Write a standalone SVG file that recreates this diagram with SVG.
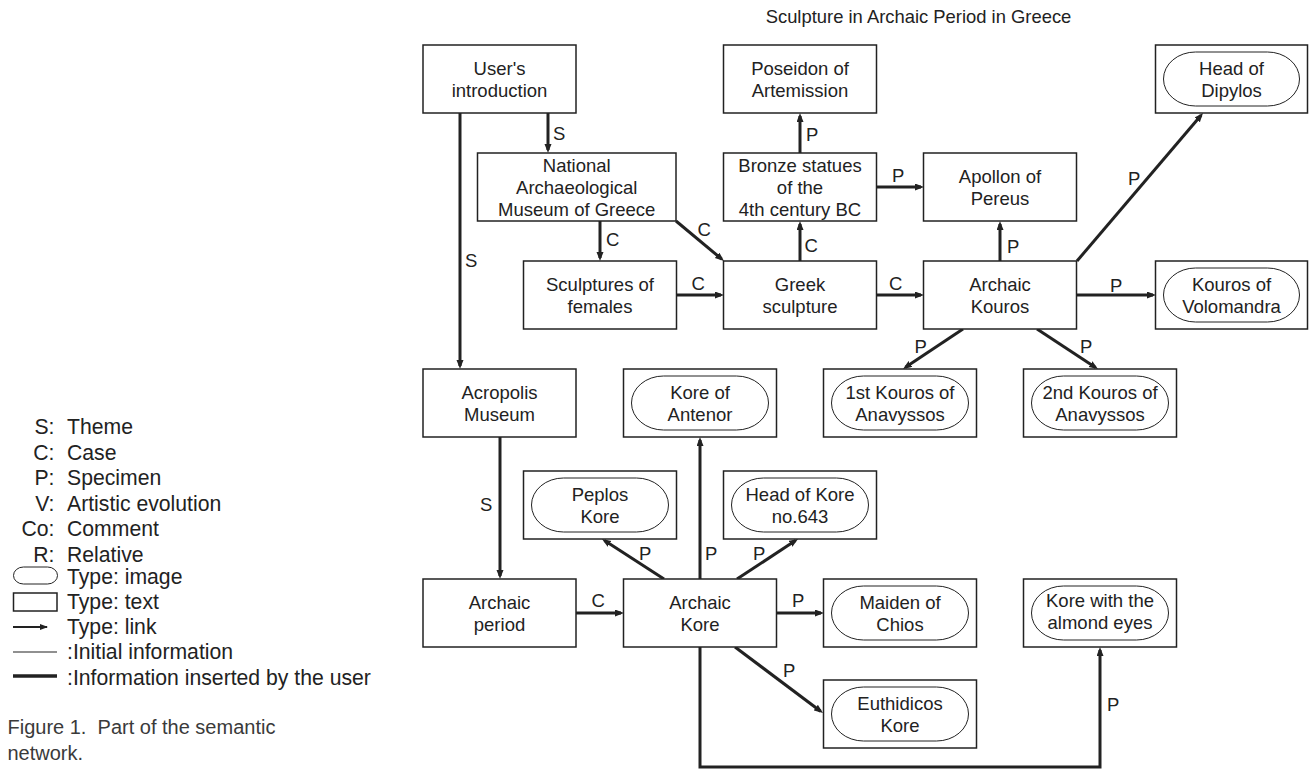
<svg xmlns="http://www.w3.org/2000/svg" width="1309" height="769" viewBox="0 0 1309 769">
<defs>
<marker id="ah" markerUnits="userSpaceOnUse" markerWidth="10" markerHeight="8" refX="6" refY="3.5" orient="auto">
<path d="M0,0 L9,3.5 L0,7 z" fill="#222"/>
</marker>
<marker id="ahs" markerUnits="userSpaceOnUse" markerWidth="10" markerHeight="8" refX="7" refY="3" orient="auto">
<path d="M0,0 L8,3 L0,6 z" fill="#222"/>
</marker>
<style>
text{font-family:"Liberation Sans",Arial,sans-serif;fill:#222}
.n text{font-size:18.5px;text-anchor:middle}
.box{fill:#fff;stroke:#222;stroke-width:1.5}
.pill{fill:none;stroke:#222;stroke-width:1}
.c{fill:none;stroke:#222;stroke-width:3;marker-end:url(#ah)}
.lbl{font-size:18.5px}
.lg{font-size:21.2px}
.lk{font-size:21.2px;text-anchor:end}
.cap{font-size:20px;fill:#3a3a3a}
</style>
</defs>
<rect width="1309" height="769" fill="#fff"/>
<text x="918.5" y="22.5" style="font-size:18.4px;text-anchor:middle">Sculpture in Archaic Period in Greece</text>

<g id="connectors">
<path class="c" d="M548,113 V150"/>
<path class="c" d="M460,113 V366"/>
<path class="c" d="M600,221 V258"/>
<path class="c" d="M676,221 L721.7,259.1"/>
<path class="c" d="M676.5,295 H721"/>
<path class="c" d="M800,153 V116"/>
<path class="c" d="M800,261 V224"/>
<path class="c" d="M876.5,187 H921"/>
<path class="c" d="M1000,261 V224"/>
<path class="c" d="M1077,261 L1201.1,115.3"/>
<path class="c" d="M1076.5,295 H1153"/>
<path class="c" d="M876.5,295 H921"/>
<path class="c" d="M963,329 L905.5,367.3"/>
<path class="c" d="M1037,329 L1095.5,367.4"/>
<path class="c" d="M500,437 V576"/>
<path class="c" d="M576,613 H621"/>
<path class="c" d="M664,579 L604.5,540.6"/>
<path class="c" d="M700,579 V440"/>
<path class="c" d="M737,579 L795.5,540.6"/>
<path class="c" d="M776.5,613 H821"/>
<path class="c" d="M735,647 L820.6,711.2"/>
<path class="c" d="M700,647 V767 H1100 V650"/>
<text class="lbl" x="553" y="140">S</text>
<text class="lbl" x="465" y="266.5">S</text>
<text class="lbl" x="606" y="246">C</text>
<text class="lbl" x="697.5" y="236">C</text>
<text class="lbl" x="691.5" y="290">C</text>
<text class="lbl" x="806" y="141">P</text>
<text class="lbl" x="804.5" y="252">C</text>
<text class="lbl" x="892" y="181.5">P</text>
<text class="lbl" x="1007" y="252.5">P</text>
<text class="lbl" x="1128" y="185">P</text>
<text class="lbl" x="1110" y="291.5">P</text>
<text class="lbl" x="889" y="290">C</text>
<text class="lbl" x="914.5" y="352.5">P</text>
<text class="lbl" x="1080" y="352.5">P</text>
<text class="lbl" x="480" y="510.5">S</text>
<text class="lbl" x="591.5" y="607">C</text>
<text class="lbl" x="639" y="560">P</text>
<text class="lbl" x="705" y="560">P</text>
<text class="lbl" x="753" y="560">P</text>
<text class="lbl" x="792" y="607">P</text>
<text class="lbl" x="783" y="677">P</text>
<text class="lbl" x="1107" y="710.5">P</text>
</g>

<g id="users-introduction" class="n"><rect class="box" x="423" y="45" width="153" height="68"/><text x="499.5" y="74.5">User's</text><text x="499.5" y="96.5">introduction</text></g>
<g id="poseidon" class="n"><rect class="box" x="723.5" y="45" width="153" height="68"/><text x="800" y="74.5">Poseidon of</text><text x="800" y="96.5">Artemission</text></g>
<g id="head-of-dipylos" class="n"><rect class="box" x="1155.5" y="45" width="152" height="68"/><rect class="pill" x="1163.5" y="52" width="136" height="54" rx="32" ry="27"/><text x="1231.5" y="74.5">Head of</text><text x="1231.5" y="96.5">Dipylos</text></g>

<g id="national-museum" class="n"><rect class="box" x="477.5" y="153" width="198.5" height="68"/><text x="576.75" y="172">National</text><text x="576.75" y="194">Archaeological</text><text x="576.75" y="216">Museum of Greece</text></g>
<g id="bronze-statues" class="n"><rect class="box" x="723.5" y="153" width="153" height="68"/><text x="800" y="172">Bronze statues</text><text x="800" y="194">of the</text><text x="800" y="216">4th century BC</text></g>
<g id="apollon" class="n"><rect class="box" x="923.5" y="153" width="153" height="68"/><text x="1000" y="182.5">Apollon of</text><text x="1000" y="204.5">Pereus</text></g>

<g id="sculptures-females" class="n"><rect class="box" x="523.5" y="261" width="153" height="68"/><text x="600" y="290.5">Sculptures of</text><text x="600" y="312.5">females</text></g>
<g id="greek-sculpture" class="n"><rect class="box" x="723.5" y="261" width="153" height="68"/><text x="800" y="290.5">Greek</text><text x="800" y="312.5">sculpture</text></g>
<g id="archaic-kouros" class="n"><rect class="box" x="923.5" y="261" width="153" height="68"/><text x="1000" y="290.5">Archaic</text><text x="1000" y="312.5">Kouros</text></g>
<g id="kouros-volomandra" class="n"><rect class="box" x="1155.5" y="261" width="152" height="68"/><rect class="pill" x="1163.5" y="268" width="136" height="54" rx="32" ry="27"/><text x="1231.5" y="290.5">Kouros of</text><text x="1231.5" y="312.5">Volomandra</text></g>

<g id="acropolis-museum" class="n"><rect class="box" x="423" y="369" width="153" height="68"/><text x="499.5" y="398.5">Acropolis</text><text x="499.5" y="420.5">Museum</text></g>
<g id="kore-antenor" class="n"><rect class="box" x="623.5" y="369" width="153" height="68"/><rect class="pill" x="631.5" y="376" width="137" height="54" rx="32" ry="27"/><text x="700" y="398.5">Kore of</text><text x="700" y="420.5">Antenor</text></g>
<g id="kouros-anavyssos-1" class="n"><rect class="box" x="823.5" y="369" width="153" height="68"/><rect class="pill" x="831.5" y="376" width="137" height="54" rx="32" ry="27"/><text x="900" y="398.5">1st Kouros of</text><text x="900" y="420.5">Anavyssos</text></g>
<g id="kouros-anavyssos-2" class="n"><rect class="box" x="1023.5" y="369" width="153" height="68"/><rect class="pill" x="1031.5" y="376" width="137" height="54" rx="32" ry="27"/><text x="1100" y="398.5">2nd Kouros of</text><text x="1100" y="420.5">Anavyssos</text></g>

<g id="peplos-kore" class="n"><rect class="box" x="523.5" y="471" width="153" height="68"/><rect class="pill" x="531.5" y="478" width="137" height="54" rx="32" ry="27"/><text x="600" y="500.5">Peplos</text><text x="600" y="522.5">Kore</text></g>
<g id="head-of-kore" class="n"><rect class="box" x="723.5" y="471" width="153" height="68"/><rect class="pill" x="731.5" y="478" width="137" height="54" rx="32" ry="27"/><text x="800" y="500.5">Head of Kore</text><text x="800" y="522.5">no.643</text></g>

<g id="archaic-period" class="n"><rect class="box" x="423" y="579" width="153" height="68"/><text x="499.5" y="608.5">Archaic</text><text x="499.5" y="630.5">period</text></g>
<g id="archaic-kore" class="n"><rect class="box" x="623.5" y="579" width="153" height="68"/><text x="700" y="608.5">Archaic</text><text x="700" y="630.5">Kore</text></g>
<g id="maiden-chios" class="n"><rect class="box" x="823.5" y="579" width="153" height="68"/><rect class="pill" x="831.5" y="586" width="137" height="54" rx="32" ry="27"/><text x="900" y="608.5">Maiden of</text><text x="900" y="630.5">Chios</text></g>
<g id="kore-almond-eyes" class="n"><rect class="box" x="1023.5" y="579" width="153" height="68"/><rect class="pill" x="1031.5" y="586" width="137" height="54" rx="32" ry="27"/><text x="1100" y="607">Kore with the</text><text x="1100" y="629">almond eyes</text></g>

<g id="euthidicos-kore" class="n"><rect class="box" x="823.5" y="680" width="153" height="68"/><rect class="pill" x="831.5" y="687" width="137" height="54" rx="32" ry="27"/><text x="900" y="709.5">Euthidicos</text><text x="900" y="731.5">Kore</text></g>

<g id="legend">
<text class="lk" x="54.5" y="434">S:</text><text class="lg" x="67" y="434">Theme</text>
<text class="lk" x="54.5" y="460">C:</text><text class="lg" x="67" y="460">Case</text>
<text class="lk" x="54.5" y="485">P:</text><text class="lg" x="67" y="485">Specimen</text>
<text class="lk" x="54.5" y="511">V:</text><text class="lg" x="67" y="511">Artistic evolution</text>
<text class="lk" x="54.5" y="536">Co:</text><text class="lg" x="67" y="536">Comment</text>
<text class="lk" x="54.5" y="562">R:</text><text class="lg" x="67" y="562">Relative</text>
<rect class="pill" x="13.5" y="567" width="44" height="17" rx="10" ry="8.5"/>
<text class="lg" x="67" y="584">Type: image</text>
<rect x="13.5" y="593" width="43.5" height="18" fill="none" stroke="#222" stroke-width="1.5"/>
<text class="lg" x="67" y="609">Type: text</text>
<path d="M13,627 H47" stroke="#222" stroke-width="2" fill="none" marker-end="url(#ahs)"/>
<text class="lg" x="67" y="634">Type: link</text>
<path d="M13,652 H57" stroke="#222" stroke-width="1.2" fill="none"/>
<text class="lg" x="67" y="659">:Initial information</text>
<path d="M13,676 H57" stroke="#222" stroke-width="3.5" fill="none"/>
<text class="lg" x="67" y="685">:Information inserted by the user</text>
<text class="cap" x="7.5" y="733.5" xml:space="preserve">Figure 1.  Part of the semantic</text>
<text class="cap" x="7.5" y="760">network.</text>
</g>
</svg>
